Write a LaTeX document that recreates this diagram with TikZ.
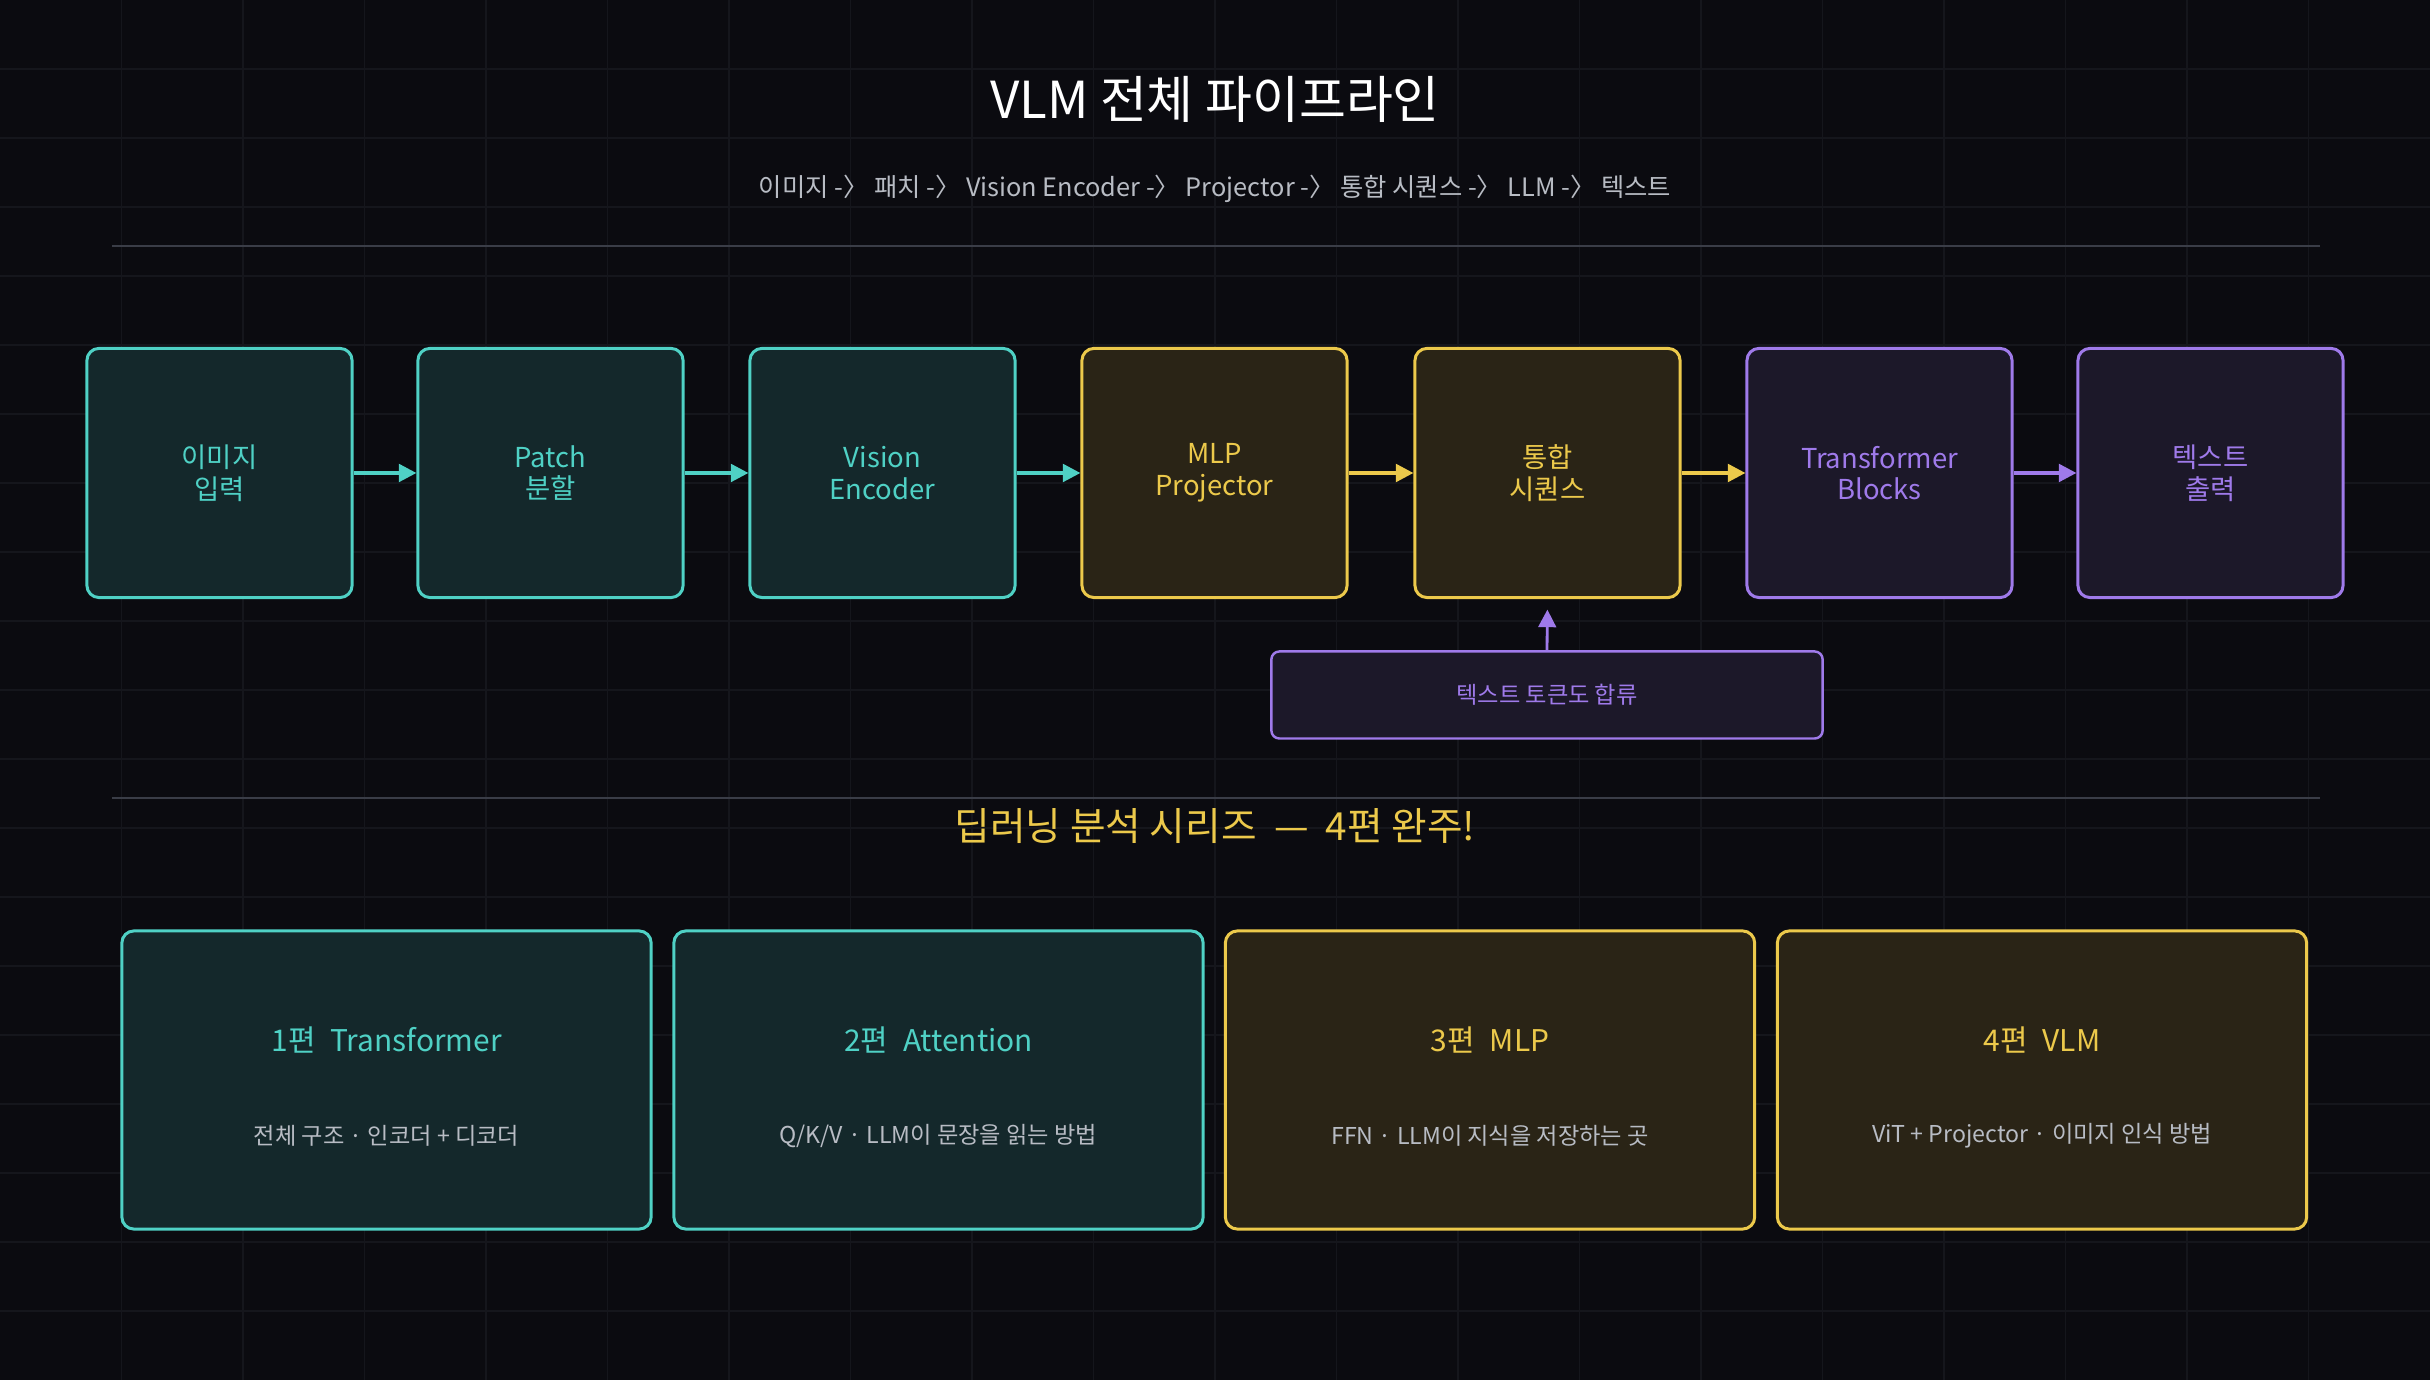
\documentclass[tikz,border=0pt]{standalone}
\usepackage{fontspec}
\setmainfont{Noto Sans CJK KR}[Scale=1]
\usetikzlibrary{arrows.meta}
\definecolor{bg}{HTML}{0B0B10}
\definecolor{grd}{HTML}{15161C}
\definecolor{teal}{HTML}{4FD1C5}
\definecolor{gold}{HTML}{ECC94B}
\definecolor{purp}{HTML}{9F7AEA}
\definecolor{tealf}{HTML}{14282B}
\definecolor{goldf}{HTML}{2A2416}
\definecolor{purpf}{HTML}{1C1829}
\definecolor{subg}{HTML}{B8BCC4}
\definecolor{sepl}{HTML}{3A3D47}
\tikzset{
 box/.style={draw=#1, fill=#1f, line width=0.85pt, rounded corners=0.12cm, minimum width=2.65cm, minimum height=2.49cm, text=#1, align=center, font=\fontsize{7.8}{9}\selectfont, inner sep=0pt},
 card/.style={draw=#1, fill=#1f, line width=0.85pt, rounded corners=0.12cm, minimum width=5.29cm, minimum height=2.98cm},
 arr/.style={-{Triangle[length=5pt,width=5pt]}, line width=1pt, draw=#1},
 ct/.style={text=#1, font=\fontsize{8.5}{10}\selectfont},
 cs/.style={text=subg, font=\fontsize{6.6}{8}\selectfont},
}
\begin{document}
\begin{tikzpicture}[x=0.01cm,y=-0.01cm]
\fill[bg] (0,0) rectangle (2430,1380);
\useasboundingbox (0,0) rectangle (2430,1380);
\foreach \i in {1,...,19} {\draw[grd, line width=0.4pt] (\i*121.5,0) -- (\i*121.5,1380);
  \draw[grd, line width=0.4pt] (0,\i*69) -- (2430,\i*69);}
\node[text=white, font=\fontsize{14.5}{16}\selectfont] (title) at (1215,99) {VLM 전체 파이프라인};
\node[text=subg, font=\fontsize{7.2}{9}\selectfont] (sub) at (1215,189) {이미지 -{\tiny}〉 패치 -〉 Vision Encoder -〉 Projector -〉 통합 시퀀스 -〉 LLM -〉 텍스트};
\draw[sepl, line width=0.6pt] (112,246) -- (2320,246);
\draw[sepl, line width=0.6pt] (112,798) -- (2320,798);
\node[box=teal] (b1) at (219.5,473) {이미지\\입력};
\node[box=teal] (b2) at (550.5,473) {Patch\\분할};
\node[box=teal] (b3) at (882.5,473) {Vision\\Encoder};
\node[box=gold] (b4) at (1214.5,473) {MLP\\Projector};
\node[box=gold] (b5) at (1547.5,473) {통합\\시퀀스};
\node[box=purp] (b6) at (1879.5,473) {Transformer\\Blocks};
\node[box=purp] (b7) at (2210.5,473) {텍스트\\출력};
\draw[arr=teal] (b1) -- (b2);
\draw[arr=teal] (b2) -- (b3);
\draw[arr=teal] (b3) -- (b4);
\draw[arr=gold] (b4) -- (b5);
\draw[arr=gold] (b5) -- (b6);
\draw[arr=purp] (b6) -- (b7);
\node[draw=purp, fill=purpf, line width=0.7pt, rounded corners=0.08cm, minimum width=5.51cm, minimum height=0.87cm, text=purp, font=\fontsize{6.6}{8}\selectfont] (tok) at (1547,695) {텍스트 토큰도 합류};
\draw[arr=purp, line width=0.8pt, shorten >=3pt] (tok.north) -- (b5.south);
\node[text=gold, font=\fontsize{11}{13}\selectfont] (series) at (1215,826) {딥러닝 분석 시리즈 \ — \ 4편 완주!};
\node[card=teal] (c1) at (386.5,1080) {};
\node[card=teal] (c2) at (938.5,1080) {};
\node[card=gold] (c3) at (1490,1080) {};
\node[card=gold] (c4) at (2042,1080) {};
\node[ct=teal] (t1) at (c1.center |- 0,1040) {1편\enspace Transformer};
\node[ct=teal] (t2) at (c2.center |- 0,1040) {2편\enspace Attention};
\node[ct=gold] (t3) at (c3.center |- 0,1040) {3편\enspace MLP};
\node[ct=gold] (t4) at (c4.center |- 0,1040) {4편\enspace VLM};
\node[cs] (s1) at (c1.center |- 0,1136) {전체 구조 · 인코더 + 디코더};
\node[cs] (s2) at (c2.center |- 0,1136) {Q/K/V · LLM이 문장을 읽는 방법};
\node[cs] (s3) at (c3.center |- 0,1136) {FFN · LLM이 지식을 저장하는 곳};
\node[cs] (s4) at (c4.center |- 0,1136) {ViT + Projector · 이미지 인식 방법};
\end{tikzpicture}
\end{document}
